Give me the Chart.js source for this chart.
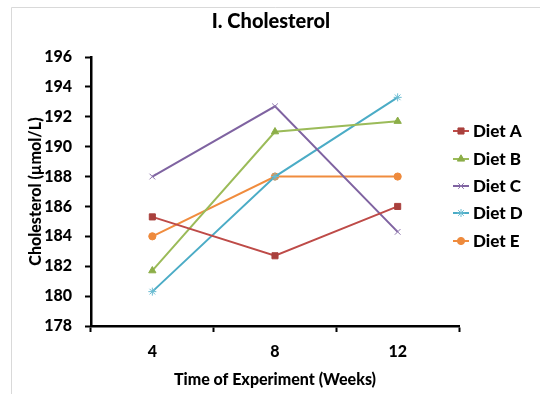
<!DOCTYPE html>
<html>
<head>
<meta charset="utf-8">
<script src="https://cdn.jsdelivr.net/npm/chart.js@4"></script>
<style>
  html, body { margin: 0; padding: 0; background: #fff; }
  #wrap { position: relative; width: 540px; height: 394px; }
  canvas { display: block; }
</style>
</head>
<body>
<div id="wrap"><canvas id="c" width="540" height="394"></canvas></div>
<script>
// Weeks on the x axis
const weeks = ['4', '8', '12'];

// Mean cholesterol (µmol/L) per diet at each week
const dietA = [185.3, 182.7, 186.0];
const dietB = [181.7, 191.0, 191.7];
const dietC = [188.0, 192.7, 184.3];
const dietD = [180.3, 188.0, 193.3];
const dietE = [184.0, 188.0, 188.0];

const seriesNames = ['Diet A', 'Diet B', 'Diet C', 'Diet D', 'Diet E'];

// y axis range
const yMin = 178;
const yMax = 196;
const yStep = 2;

const FONT = 'Lato, "Open Sans", sans-serif';
const WEIGHT = '900';

const styles = [
  { line: '#BE4B48', fill: '#A9403D', stroke: '#A9403D', shape: 'rect',     r: 4.3 },
  { line: '#9BBB59', fill: '#8CAE48', stroke: '#8CAE48', shape: 'triangle', r: 4.2 },
  { line: '#7F63A1', fill: '#7F63A1', stroke: '#8C74AC', shape: 'crossRot', r: 4   },
  { line: '#4BACC6', fill: '#4BACC6', stroke: '#6BBCD2', shape: 'star',     r: 4   },
  { line: '#F08C3E', fill: '#EE8A3C', stroke: '#EE8A3C', shape: 'circle',   r: 3.6 }
];

const values = [dietA, dietB, dietC, dietD, dietE];

const datasets = values.map((v, i) => ({
  label: seriesNames[i],
  data: v,
  borderColor: styles[i].line,
  borderWidth: 2,
  pointStyle: styles[i].shape,
  pointRadius: styles[i].r,
  pointBackgroundColor: styles[i].fill,
  pointBorderColor: styles[i].stroke,
  pointBorderWidth: 1,
  tension: 0,
  fill: false
}));

// Frame, title and the legend beside the plot
const decor = {
  id: 'decor',
  beforeDraw(chart) {
    const ctx = chart.ctx;
    ctx.save();
    ctx.fillStyle = '#fff';
    ctx.fillRect(0, 0, chart.width, chart.height);
    ctx.strokeStyle = '#D9D9D9';
    ctx.lineWidth = 1;
    ctx.beginPath();
    ctx.moveTo(11.5, chart.height);
    ctx.lineTo(11.5, 7.5);
    ctx.lineTo(chart.width, 7.5);
    ctx.stroke();
    ctx.restore();
  },
  afterDraw(chart) {
    const ctx = chart.ctx;
    ctx.save();
    ctx.fillStyle = '#000';
    ctx.font = WEIGHT + ' 20px ' + FONT;
    ctx.textAlign = 'center';
    ctx.textBaseline = 'middle';
    ctx.fillText('I. Cholesterol', 271, 22);

    const x0 = 453, x1 = 469, tx = 473;
    const rowY = [131, 159, 186, 213, 241];
    ctx.font = WEIGHT + ' 17px ' + FONT;
    ctx.textAlign = 'left';
    chart.data.datasets.forEach((ds, i) => {
      const y = rowY[i];
      ctx.strokeStyle = ds.borderColor;
      ctx.lineWidth = 2;
      ctx.beginPath();
      ctx.moveTo(x0, y);
      ctx.lineTo(x1, y);
      ctx.stroke();
      ctx.fillStyle = ds.pointBackgroundColor;
      ctx.strokeStyle = ds.pointBorderColor;
      ctx.lineWidth = 1;
      Chart.helpers.drawPoint(ctx, { pointStyle: ds.pointStyle, radius: ds.pointRadius, borderWidth: 1, rotation: 0 }, (x0 + x1) / 2, y);
      ctx.fillStyle = '#000';
      ctx.fillText(ds.label, tx, y + 1);
    });
    ctx.restore();
  }
};

new Chart(document.getElementById('c'), {
  type: 'line',
  data: { labels: weeks, datasets },
  plugins: [decor],
  options: {
    responsive: false,
    animation: false,
    layout: { padding: { left: 0, right: 81, top: 57, bottom: 0 } },
    plugins: {
      legend: { display: false },
      title: { display: false },
      tooltip: { enabled: false }
    },
    scales: {
      x: {
        type: 'category',
        offset: true,
        afterFit(s) { s.height = 68; },
        grid: {
          offset: true,
          drawOnChartArea: false,
          drawTicks: true,
          tickLength: 6,
          tickWidth: 2,
          tickColor: '#000'
        },
        border: { display: true, color: '#000', width: 2.5 },
        ticks: {
          color: '#000',
          padding: 10,
          font: { family: FONT, size: 16, weight: WEIGHT }
        },
        title: {
          display: true,
          text: 'Time of Experiment (Weeks)',
          color: '#000',
          padding: { top: 0, bottom: 5 },
          font: { family: FONT, size: 16, weight: WEIGHT }
        }
      },
      y: {
        min: yMin,
        max: yMax,
        afterFit(s) { s.width = 91; },
        ticks: {
          stepSize: yStep,
          color: '#000',
          padding: 13,
          font: { family: FONT, size: 16, weight: WEIGHT }
        },
        grid: {
          drawOnChartArea: false,
          drawTicks: true,
          tickLength: 6,
          tickWidth: 2,
          tickColor: '#000'
        },
        border: { display: true, color: '#000', width: 2.5 },
        title: {
          display: true,
          text: 'Cholesterol (µmol/L)',
          color: '#000',
          padding: { top: 26, bottom: 0 },
          font: { family: FONT, size: 16, weight: WEIGHT }
        }
      }
    }
  }
});
</script>
</body>
</html>
